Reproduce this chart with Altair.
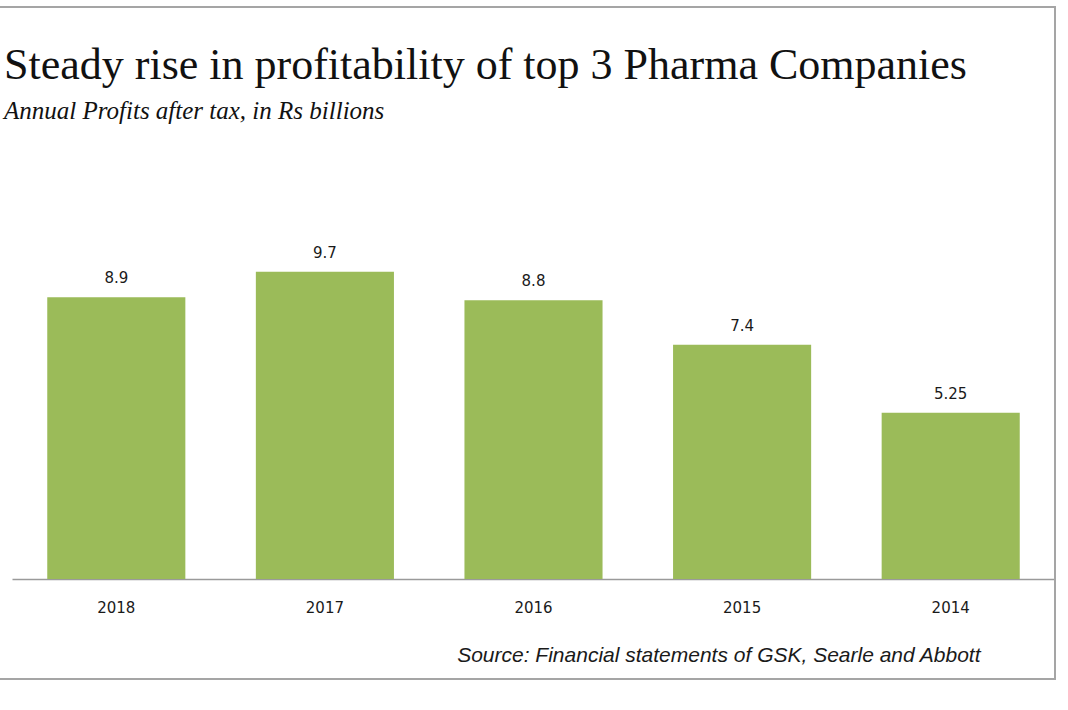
import altair as alt
import pandas as pd

years = ["2018", "2017", "2016", "2015", "2014"]
profits = [8.9, 9.7, 8.8, 7.4, 5.25]
labels = ["8.9", "9.7", "8.8", "7.4", "5.25"]

df = pd.DataFrame({"year": years, "profit": profits, "label": labels})

x_enc = alt.X(
    "year:N",
    sort=years,
    scale=alt.Scale(paddingInner=0.338, paddingOuter=0.169),
    axis=alt.Axis(
        title="Source: Financial statements of GSK, Searle and Abbott",
        titleFont="Liberation Sans",
        titleFontStyle="italic",
        titleFontWeight="normal",
        titleFontSize=21,
        titleColor="#1a1a1a",
        titleAlign="right",
        titleBaseline="middle",
        titleX=968,
        titleY=76,
        labelFont="DejaVu Sans",
        labelFontSize=15,
        labelColor="#1a1a1a",
        labelAngle=0,
        labelPadding=21,
        ticks=False,
        domainColor="#9a9a9a",
        domainWidth=1.5,
    ),
)
y_enc = alt.Y("profit:Q", scale=alt.Scale(domain=[0, 12]), axis=None)

bars = alt.Chart(df).mark_bar(color="#9BBB59").encode(x=x_enc, y=y_enc)

text = alt.Chart(df).mark_text(
    font="DejaVu Sans", fontSize=15, color="#1a1a1a", dy=-19, baseline="middle"
).encode(x=alt.X("year:N", sort=years), y="profit:Q", text="label:N")

frame = alt.Chart(df).mark_rect(
    fill=None, stroke="#a5a5a5", strokeWidth=1.5
).encode(
    x=alt.value(-30), x2=alt.value(1043), y=alt.value(-192), y2=alt.value(480)
)

chart = (
    alt.layer(frame, bars, text)
    .properties(
        width=1043,
        height=380,
        autosize=alt.AutoSizeParams(type="none"),
        padding={"left": 12, "top": 199, "right": 13, "bottom": 131},
        title=alt.TitleParams(
            text="Steady rise in profitability of top 3 Pharma Companies",
            subtitle="Annual Profits after tax, in Rs billions",
            anchor="start",
            frame="group",
            font="Liberation Serif",
            fontSize=44,
            fontWeight="normal",
            color="#111111",
            subtitleFont="Liberation Serif",
            subtitleFontStyle="italic",
            subtitleFontSize=25,
            subtitleColor="#111111",
            subtitlePadding=11,
            offset=-118,
            dx=-8,
        ),
    )
    .configure(background="white")
    .configure_view(stroke=None)
)

chart.save("out.html", embed_options={"renderer": "svg", "actions": False})
